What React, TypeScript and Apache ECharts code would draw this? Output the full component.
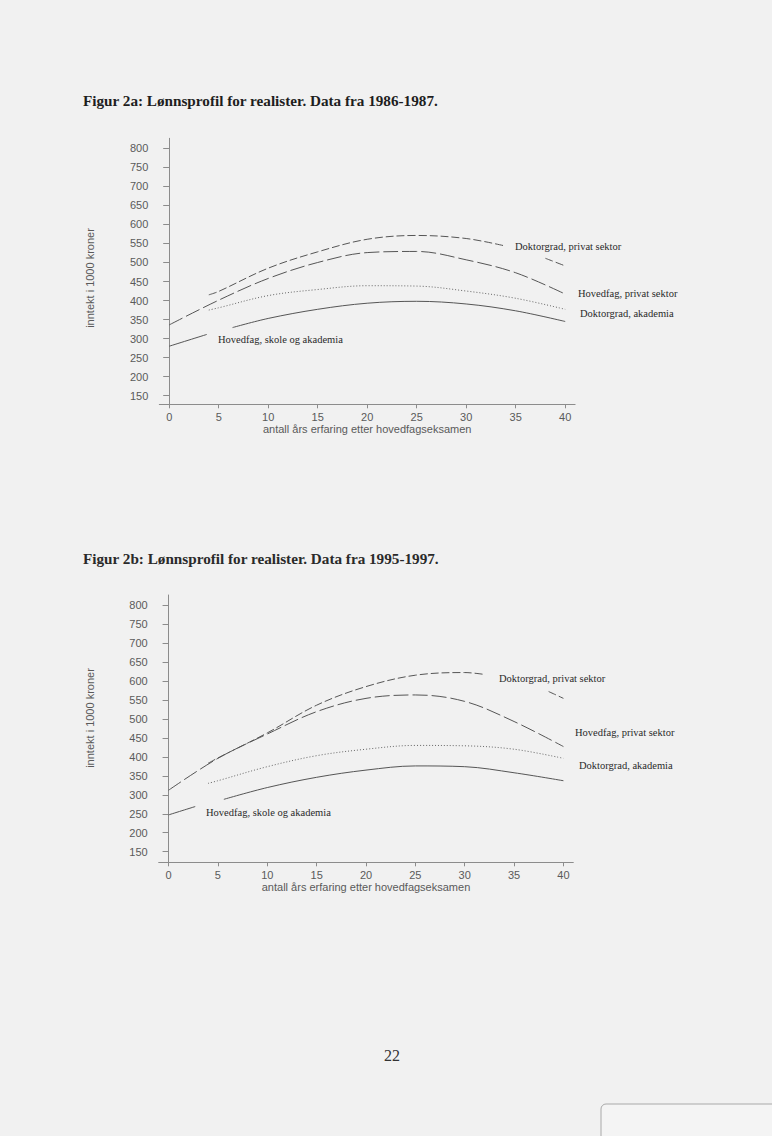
import React, { useEffect, useRef } from "react";
import * as echarts from "echarts";

// Tick labels
const yTicks = [150, 200, 250, 300, 350, 400, 450, 500, 550, 600, 650, 700, 750, 800];
const xTicks = [0, 5, 10, 15, 20, 25, 30, 35, 40];

// Figur 2a (1986-1987)
const a_drPrivX = [4, 5, 10, 15, 20, 25, 30, 34, 36, 38, 40];
const a_drPrivY = [415, 424, 485, 528, 561, 571, 563, 543, null, 511, 491];
const a_hfPrivX = [0, 5, 10, 15, 20, 25, 30, 35, 40];
const a_hfPrivY = [336, 401, 458, 500, 526, 529, 507, 473, 417];
const a_drAkadX = [4, 5, 10, 15, 20, 25, 30, 35, 40];
const a_drAkadY = [375, 381, 413, 429, 439, 438, 425, 406, 377];
const a_hfSkoleX = [0, 3.8, 5, 6.4, 10, 15, 20, 25, 30, 35, 40];
const a_hfSkoleY = [280, 311, null, 329, 353, 377, 393, 398, 391, 373, 345];

// Figur 2b (1995-1997)
const b_drPrivX = [4, 5, 10, 15, 20, 25, 30, 32, 35, 38.5, 40];
const b_drPrivY = [383, 397, 463, 536, 585, 615, 622, 617, null, 572, 554];
const b_hfPrivX = [0, 5, 10, 15, 20, 25, 30, 35, 40];
const b_hfPrivY = [312, 396, 460, 519, 554, 563, 546, 493, 427];
const b_drAkadX = [4, 5, 10, 15, 20, 25, 30, 35, 40];
const b_drAkadY = [330, 337, 374, 403, 420, 430, 429, 420, 396];
const b_hfSkoleX = [0, 2.7, 4, 5.6, 10, 15, 20, 25, 30, 35, 40];
const b_hfSkoleY = [247, 269, null, 288, 319, 346, 365, 376, 374, 358, 337];

const labels = {
  drPriv: "Doktorgrad, privat sektor",
  hfPriv: "Hovedfag, privat sektor",
  drAkad: "Doktorgrad, akademia",
  hfSkole: "Hovedfag, skole og akademia",
};

const zip = (xs: number[], ys: (number | null)[]) =>
  xs.map((x, i) => [x, ys[i] === null ? "-" : ys[i]]);

const AXIS_COLOR = "#8c8c8c";
const LABEL_COLOR = "#5a5a5a";
const LINE_COLOR = "#555";

function makeX(gridIndex: number) {
  return {
    type: "value",
    gridIndex,
    min: -1,
    max: 41,
    name: "antall års erfaring etter hovedfagseksamen",
    nameLocation: "middle",
    nameGap: 17,
    nameTextStyle: { color: LABEL_COLOR, fontFamily: "Liberation Sans", fontSize: 11, verticalAlign: "top" },
    axisLine: { show: true, lineStyle: { color: AXIS_COLOR, width: 1 } },
    axisTick: { show: true, length: 4, customValues: xTicks, lineStyle: { color: AXIS_COLOR } },
    axisLabel: { customValues: xTicks, color: LABEL_COLOR, fontFamily: "Liberation Sans", fontSize: 11, margin: 7 },
    splitLine: { show: false },
  };
}

function makeY(gridIndex: number, min: number, max: number) {
  return {
    type: "value",
    gridIndex,
    min,
    max,
    axisLine: { show: true, lineStyle: { color: AXIS_COLOR, width: 1 } },
    axisTick: { show: true, length: 6, customValues: yTicks, lineStyle: { color: AXIS_COLOR } },
    axisLabel: { customValues: yTicks, color: LABEL_COLOR, fontFamily: "Liberation Sans", fontSize: 11, margin: 11 },
    splitLine: { show: false },
  };
}

function line(name: string, idx: number, data: any[], type: any, color = LINE_COLOR) {
  return {
    type: "line",
    name,
    xAxisIndex: idx,
    yAxisIndex: idx,
    data,
    showSymbol: false,
    smooth: 0.35,
    connectNulls: false,
    lineStyle: { type, width: 1, color },
    silent: true,
  };
}

function txt(text: string, x: number, y: number, extra: any = {}) {
  return {
    type: "text",
    x,
    y,
    style: {
      text,
      fill: "#2a2a2a",
      font: "10.5px 'Liberation Serif'",
      textAlign: "left",
      textVerticalAlign: "middle",
      ...extra,
    },
  };
}

export default function App() {
  const ref = useRef<HTMLDivElement>(null);
  useEffect(() => {
    document.body.style.margin = "0";
    if (!ref.current) return;
    const chart = echarts.init(ref.current, undefined, { renderer: "svg" });
    const option: any = {
      animation: false,
      backgroundColor: "#f1f1f1",
      grid: [
        { left: 159.3, right: 196.9, top: 138.3, bottom: 731.7 },
        { left: 158.7, right: 198.7, top: 595, bottom: 273.7 },
      ],
      xAxis: [makeX(0), makeX(1)],
      yAxis: [makeY(0, 127.4, 826.3), makeY(1, 122.1, 826.3)],
      series: [
        line(labels.drPriv, 0, zip(a_drPrivX, a_drPrivY), [8, 3]),
        line(labels.hfPriv, 0, zip(a_hfPrivX, a_hfPrivY), [15, 4]),
        line(labels.drAkad, 0, zip(a_drAkadX, a_drAkadY), [1, 2], "#666"),
        line(labels.hfSkole, 0, zip(a_hfSkoleX, a_hfSkoleY), "solid"),
        line(labels.drPriv, 1, zip(b_drPrivX, b_drPrivY), [8, 3]),
        line(labels.hfPriv, 1, zip(b_hfPrivX, b_hfPrivY), [15, 4]),
        line(labels.drAkad, 1, zip(b_drAkadX, b_drAkadY), [1, 2], "#666"),
        line(labels.hfSkole, 1, zip(b_hfSkoleX, b_hfSkoleY), "solid"),
      ],
      graphic: [
        txt("Figur 2a: Lønnsprofil for realister. Data fra 1986-1987.", 83, 100, {
          font: "bold 15.2px 'Liberation Serif'",
          fill: "#1e1e1e",
        }),
        txt("Figur 2b: Lønnsprofil for realister. Data fra 1995-1997.", 83, 558, {
          font: "bold 15.2px 'Liberation Serif'",
          fill: "#2a2a2a",
        }),
        {
          type: "text",
          x: 90,
          y: 278,
          rotation: Math.PI / 2,
          style: {
            text: "inntekt i 1000 kroner",
            fill: LABEL_COLOR,
            font: "11px 'Liberation Sans'",
            textAlign: "center",
            textVerticalAlign: "middle",
          },
        },
        {
          type: "text",
          x: 90,
          y: 718,
          rotation: Math.PI / 2,
          style: {
            text: "inntekt i 1000 kroner",
            fill: LABEL_COLOR,
            font: "11px 'Liberation Sans'",
            textAlign: "center",
            textVerticalAlign: "middle",
          },
        },
        txt(labels.drPriv, 515, 246),
        txt(labels.hfPriv, 578, 293),
        txt(labels.drAkad, 580, 313),
        txt(labels.hfSkole, 218, 339),
        txt(labels.drPriv, 499, 678),
        txt(labels.hfPriv, 575, 732),
        txt(labels.drAkad, 579, 765),
        txt(labels.hfSkole, 206, 812),
        txt("22", 384, 1055, { font: "16px 'Liberation Serif'", fill: "#333" }),
        {
          type: "rect",
          shape: { x: 601, y: 1104, width: 200, height: 60, r: 5 },
          style: { fill: "#f4f4f4", stroke: "#a8a8a8", lineWidth: 1 },
        },
      ],
    };
    chart.setOption(option);
    return () => chart.dispose();
  }, []);
  return <div ref={ref} style={{ width: 772, height: 1136 }} />;
}
